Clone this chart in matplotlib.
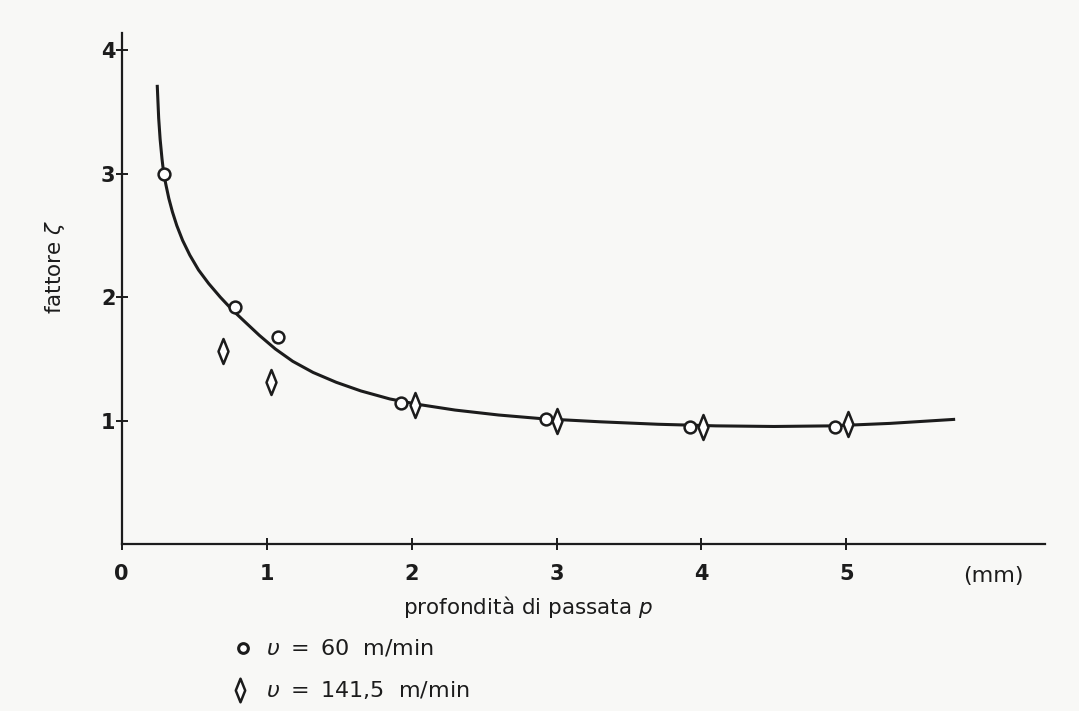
import matplotlib
matplotlib.use("Agg")
import matplotlib.pyplot as plt
from matplotlib.path import Path
from matplotlib.lines import Line2D

# --- data -------------------------------------------------------------
# measured points, cutting speed v = 60 m/min
p_60 = [0.29, 0.78, 1.08, 1.93, 2.93, 3.92, 4.92]
z_60 = [3.00, 1.92, 1.68, 1.14, 1.01, 0.95, 0.95]

# measured points, cutting speed v = 141,5 m/min
p_141 = [0.70, 1.03, 2.02, 3.00, 4.01, 5.01]
z_141 = [1.56, 1.31, 1.13, 1.00, 0.95, 0.97]

# fitted curve zeta(p)
curve_p = [0.245, 0.255, 0.265, 0.278, 0.29, 0.305, 0.325, 0.35, 0.38,
           0.42, 0.47, 0.53, 0.60, 0.68, 0.76, 0.85, 0.95, 1.06, 1.18,
           1.32, 1.48, 1.65, 1.85, 2.05, 2.30, 2.60, 2.90, 3.30, 3.70,
           4.10, 4.50, 4.90, 5.30, 5.75]
curve_z = [3.72, 3.45, 3.28, 3.12, 3.00, 2.91, 2.80, 2.69, 2.58,
           2.46, 2.34, 2.22, 2.11, 2.00, 1.90, 1.80, 1.69, 1.58, 1.48,
           1.39, 1.31, 1.24, 1.175, 1.13, 1.085, 1.045, 1.015, 0.99, 0.97,
           0.957, 0.952, 0.957, 0.977, 1.01]

x_ticks = [0, 1, 2, 3, 4, 5]
y_ticks = [1, 2, 3, 4]

legend_labels = ["60  m/min", "141,5  m/min"]

# --- style ------------------------------------------------------------
INK = "#1c1c1c"
BG = "#f8f8f6"
plt.rcParams["font.family"] = ["DejaVu Sans"]

# tall, thin diamond marker
diamond = Path([(0, 1), (0.40, 0), (0, -1), (-0.40, 0), (0, 1)],
               [Path.MOVETO, Path.LINETO, Path.LINETO, Path.LINETO, Path.CLOSEPOLY])

fig = plt.figure(figsize=(10.79, 7.11), dpi=100, facecolor=BG)
ax = fig.add_axes([0.1128, 0.2349, 0.8557, 0.7187])
ax.set_facecolor(BG)

ax.set_xlim(0, 6.37)
ax.set_ylim(0, 4.14)
for side in ("top", "right"):
    ax.spines[side].set_visible(False)
for side in ("left", "bottom"):
    ax.spines[side].set_color(INK)
    ax.spines[side].set_linewidth(1.6)

ax.set_xticks(x_ticks)
ax.set_yticks(y_ticks)
ax.set_xticklabels([str(t) for t in x_ticks])
ax.set_yticklabels([str(t) for t in y_ticks])
ax.tick_params(direction="inout", length=9, width=1.4, color=INK,
               labelsize=15, labelcolor=INK, pad=10)
ax.tick_params(axis="y", pad=0)
for lab in ax.get_xticklabels() + ax.get_yticklabels():
    lab.set_fontweight("bold")

# curve
ax.plot(curve_p, curve_z, color=INK, lw=2.2, solid_joinstyle="round",
        solid_capstyle="butt", zorder=2)

# measured points
ax.plot(p_60, z_60, ls="none", marker="o", ms=8.5, mfc="white", mec=INK,
        mew=1.8, zorder=3)
ax.plot(p_141, z_141, ls="none", marker=diamond, ms=18, mfc="white",
        mec=INK, mew=1.8, zorder=3)

# axis labels
fig.text(55 / 1079, 1 - 267 / 711, "fattore $\\zeta$", rotation=90,
         ha="center", va="center", fontsize=15.5, color=INK)
fig.text(528 / 1079, 1 - 607 / 711, "profondità di passata $p$",
         ha="center", va="center", fontsize=15.5, color=INK)
fig.text(993 / 1079, 1 - 576 / 711, "(mm)", ha="center", va="center",
         fontsize=16, color=INK)

# legend drawn below the axes
overlay = fig.add_axes([0, 0, 1, 1], facecolor="none")
overlay.set_xlim(0, 1079)
overlay.set_ylim(711, 0)
overlay.axis("off")
overlay.add_line(Line2D([243], [648], ls="none", marker="o", ms=7,
                        mfc="white", mec=INK, mew=2.2))
overlay.add_line(Line2D([240], [690], ls="none", marker=diamond, ms=17,
                        mfc="white", mec=INK, mew=1.8))
for y, lab in zip([648, 690], legend_labels):
    overlay.text(266, y, "$\\upsilon$ $=$ " + lab, ha="left", va="center",
                 fontsize=16, color=INK)

fig.savefig("out.png", dpi=100, facecolor=BG)
